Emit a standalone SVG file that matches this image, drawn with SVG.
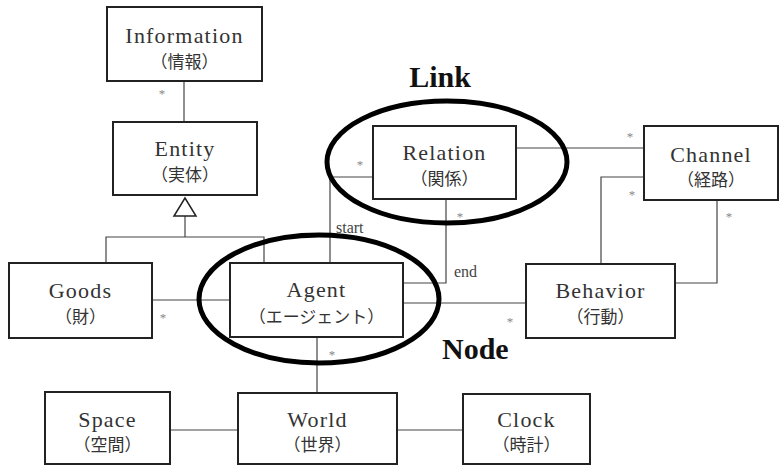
<svg xmlns="http://www.w3.org/2000/svg" width="779" height="465" viewBox="0 0 779 465">
<style>
.box{fill:#fff;stroke:#222;stroke-width:2}
.en{font-family:"Liberation Serif","Times New Roman",serif;font-size:22px;fill:#333;text-anchor:middle;letter-spacing:1.2px}
.jp{font-family:"Noto Sans CJK JP","Noto Sans",sans-serif;font-size:17px;fill:#333;text-anchor:middle}
.ln{fill:none;stroke:#444;stroke-width:1.2}
.ast{font-family:"Liberation Serif",serif;font-size:13px;fill:#888;text-anchor:middle}
.lbl{font-family:"Liberation Serif",serif;font-size:16px;fill:#444}
.big{font-family:"Liberation Serif","Times New Roman",serif;font-size:30px;font-weight:bold;fill:#111}
.ell{fill:none;stroke:#000;stroke-width:5}
</style>
<rect width="779" height="465" fill="#fff"/>
<g id="connectors">
<line class="ln" x1="184" y1="81" x2="184" y2="122"/>
<text class="ast" x="162" y="98">*</text>
<line class="ln" x1="185" y1="216" x2="185" y2="237"/>
<polyline class="ln" points="106,263 106,237 264,237 264,263"/>
<polygon points="185,198 174,216 196,216" fill="#fff" stroke="#222" stroke-width="1.5"/>
<line class="ln" x1="152" y1="300" x2="230" y2="300"/>
<text class="ast" x="163" y="322">*</text>
<polyline class="ln" points="330,263 330,177 373,177"/>
<text class="ast" x="360" y="169">*</text>
<text class="lbl" x="336" y="233">start</text>
<polyline class="ln" points="446,199 446,283 403,283"/>
<text class="ast" x="460" y="221">*</text>
<text class="lbl" x="454" y="277">end</text>
<line class="ln" x1="516" y1="148" x2="644" y2="148"/>
<text class="ast" x="630" y="141">*</text>
<polyline class="ln" points="644,177 601,177 601,264"/>
<text class="ast" x="632" y="199">*</text>
<polyline class="ln" points="717,200 717,283 675,283"/>
<text class="ast" x="729" y="221">*</text>
<line class="ln" x1="403" y1="303" x2="526" y2="303"/>
<text class="ast" x="510" y="326">*</text>
<line class="ln" x1="317" y1="337" x2="317" y2="393"/>
<text class="ast" x="332" y="359">*</text>
<line class="ln" x1="170" y1="430" x2="238" y2="430"/>
<line class="ln" x1="397" y1="430" x2="463" y2="430"/>
</g>
<g id="information"><rect class="box" x="107" y="7" width="155" height="74"/><text class="en" x="184.5" y="43">Information</text><text class="jp" x="184.5" y="68">（情報）</text></g>
<g id="entity"><rect class="box" x="113" y="122" width="144" height="73"/><text class="en" x="185" y="156">Entity</text><text class="jp" x="185" y="181">（実体）</text></g>
<g id="goods"><rect class="box" x="9" y="263" width="143" height="75"/><text class="en" x="80.5" y="298">Goods</text><text class="jp" x="80.5" y="323">（財）</text></g>
<g id="agent"><rect class="box" x="230" y="263" width="173" height="74"/><text class="en" x="316.5" y="297">Agent</text><text class="jp" x="316.5" y="323">（エージェント）</text></g>
<g id="relation"><rect class="box" x="373" y="126" width="143" height="73"/><text class="en" x="444.5" y="160">Relation</text><text class="jp" x="444.5" y="185">（関係）</text></g>
<g id="channel"><rect class="box" x="644" y="126" width="134" height="74"/><text class="en" x="711" y="162">Channel</text><text class="jp" x="711" y="186">（経路）</text></g>
<g id="behavior"><rect class="box" x="526" y="264" width="149" height="74"/><text class="en" x="600.5" y="298">Behavior</text><text class="jp" x="600.5" y="323">（行動）</text></g>
<g id="space"><rect class="box" x="45" y="392" width="125" height="72"/><text class="en" x="107.5" y="427">Space</text><text class="jp" x="107.5" y="451">（空間）</text></g>
<g id="world"><rect class="box" x="238" y="393" width="159" height="71"/><text class="en" x="317.5" y="427">World</text><text class="jp" x="317.5" y="451">（世界）</text></g>
<g id="clock"><rect class="box" x="463" y="394" width="127" height="70"/><text class="en" x="526.5" y="427">Clock</text><text class="jp" x="526.5" y="451">（時計）</text></g>
<g id="link-group"><ellipse class="ell" cx="447" cy="162" rx="120" ry="61"/><text class="big" x="440" y="87" text-anchor="middle">Link</text></g>
<g id="node-group"><ellipse class="ell" cx="319" cy="299" rx="120" ry="64"/><text class="big" x="442" y="359">Node</text></g>
</svg>
